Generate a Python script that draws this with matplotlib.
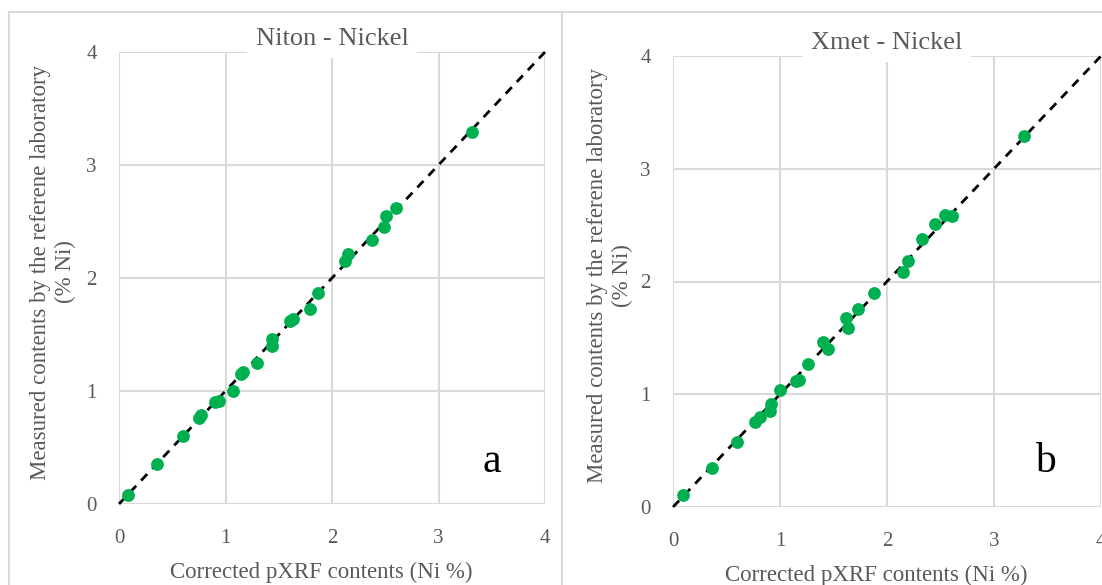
import numpy as np
import matplotlib
matplotlib.use("Agg")
import matplotlib.pyplot as plt
from matplotlib.patches import Rectangle

# Niton - Nickel (corrected pXRF vs reference laboratory)
niton_x = [0.08, 0.36, 0.60, 0.75, 0.77, 0.90, 0.94, 1.07, 1.15, 1.16, 1.30,
           1.44, 1.44, 1.61, 1.63, 1.79, 1.87, 2.12, 2.15, 2.38, 2.49, 2.51,
           2.60, 3.31]
niton_y = [0.08, 0.35, 0.60, 0.76, 0.79, 0.90, 0.91, 1.00, 1.15, 1.17, 1.25,
           1.40, 1.46, 1.62, 1.64, 1.73, 1.87, 2.15, 2.21, 2.34, 2.45, 2.55,
           2.62, 3.29]

# Xmet - Nickel
xmet_x = [0.09, 0.36, 0.60, 0.77, 0.81, 0.91, 0.92, 1.00, 1.15, 1.18, 1.26,
          1.40, 1.45, 1.62, 1.64, 1.73, 1.88, 2.15, 2.20, 2.33, 2.45, 2.54,
          2.61, 3.28]
xmet_y = [0.11, 0.35, 0.58, 0.75, 0.80, 0.85, 0.91, 1.04, 1.12, 1.13, 1.27,
          1.46, 1.40, 1.68, 1.59, 1.76, 1.90, 2.08, 2.18, 2.38, 2.51, 2.59,
          2.58, 3.29]

ticks = [0, 1, 2, 3, 4]
titles = ["Niton - Nickel", "Xmet - Nickel"]
letters = ["a", "b"]
ylabel = "Measured contents by the referene laboratory\n(% Ni)"
xlabel = "Corrected pXRF contents (Ni %)"

W, H = 1102, 585
FONT = "Liberation Serif"
GRAY = "#595959"
GRID = "#D9D9D9"
GREEN = "#00B050"

fig = plt.figure(figsize=(W / 100, H / 100), dpi=100)


def px_rect(x0, y0, x1, y1):
    # pixel box (top-left origin) -> figure fraction [left, bottom, width, height]
    return [x0 / W, 1 - y1 / H, (x1 - x0) / W, (y1 - y0) / H]


# outer panel frames
for x0, x1 in [(9, 562), (562, 1110)]:
    l, b, w, h = px_rect(x0, 12, x1, 600)
    fig.patches.append(Rectangle((l, b), w, h, transform=fig.transFigure,
                                 fill=False, ec=GRID, lw=1.5, zorder=0))

panels = [
    dict(box=(119, 52, 545, 504), x=niton_x, y=niton_y,
         ylab_x=53, xlab_y=572, letter=(492, 462)),
    dict(box=(673, 56, 1101, 507), x=xmet_x, y=xmet_y,
         ylab_x=610, xlab_y=575, letter=(1045, 462)),
]

for i, p in enumerate(panels):
    x0, y0, x1, y1 = p["box"]
    ax = fig.add_axes(px_rect(x0, y0, x1, y1))
    ax.set_xlim(0, 4)
    ax.set_ylim(0, 4)
    ax.set_xticks(ticks)
    ax.set_yticks(ticks)
    ax.grid(True, color=GRID, lw=1.5, zorder=0)
    for s in ax.spines.values():
        s.set_visible(False)
    ax.tick_params(length=0, labelsize=15, labelcolor=GRAY)
    ax.tick_params(axis="x", pad=18)
    ax.tick_params(axis="y", pad=16)
    for lab in ax.get_xticklabels() + ax.get_yticklabels():
        lab.set_fontfamily(FONT)

    # 1:1 reference line
    ax.plot([0, 4], [0, 4], color="black", lw=2, ls=(0, (3.2, 2.6)),
            zorder=2, clip_on=False)
    ax.scatter(p["x"], p["y"], s=85, color=GREEN, zorder=3, clip_on=False,
               linewidths=0)

    # title sits just above the frame, its white box breaking the top gridline
    ax.text(0.5, 1 + 13 / (y1 - y0), titles[i], transform=ax.transAxes,
            ha="center", va="center", fontsize=19, color=GRAY, family=FONT,
            bbox=dict(fc="white", ec="none", pad=6), zorder=5)

    cx = (x0 + x1) / 2
    fig.text(cx / W - 0.01, 1 - p["xlab_y"] / H, xlabel, ha="center",
             va="center", fontsize=16.5, color=GRAY, family=FONT)
    fig.text(p["ylab_x"] / W, 1 - ((y0 + y1) / 2 - 6) / H, ylabel,
             rotation=90, ha="center", va="center", fontsize=16.5,
             color=GRAY, family=FONT, linespacing=1.25,
             multialignment="center")
    lx, ly = p["letter"]
    fig.text(lx / W, 1 - ly / H, letters[i], ha="center", va="center",
             fontsize=30, color="black", family=FONT)

fig.savefig("out.png", dpi=100)
